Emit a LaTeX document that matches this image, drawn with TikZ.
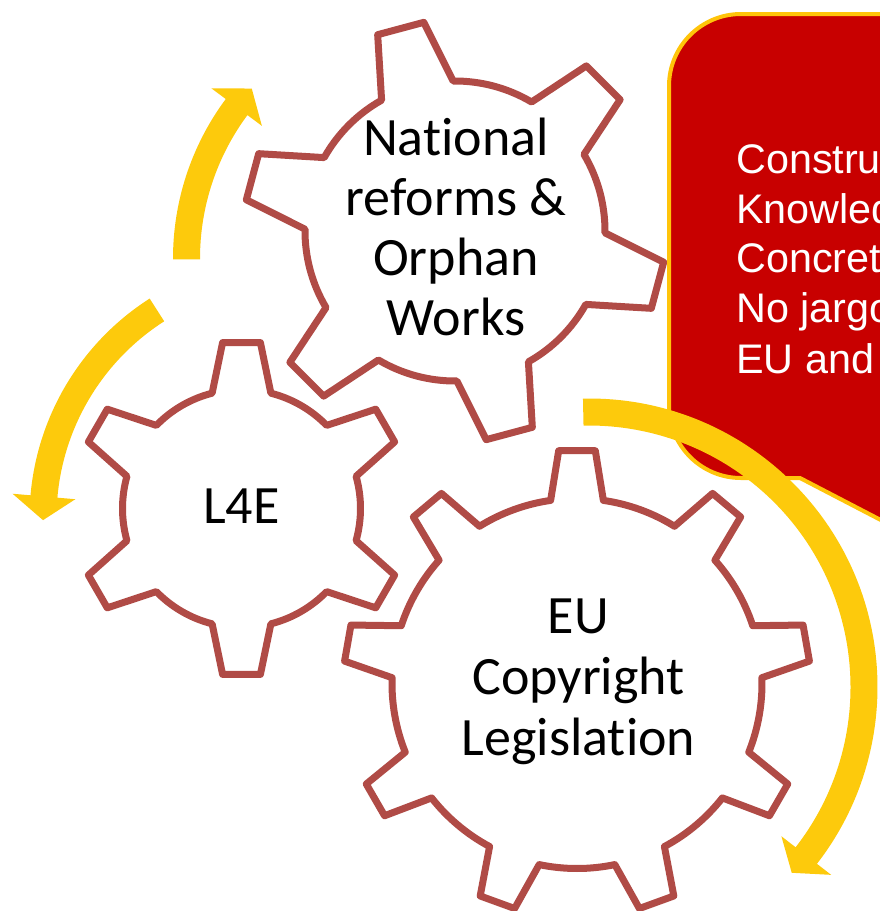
\documentclass[tikz,border=0pt]{standalone}
\usepackage{fontspec}
\setmainfont{Carlito}[Ligatures={NoCommon}]
\newfontfamily\arialf{Liberation Sans}
\definecolor{gearred}{RGB}{176,75,70}
\definecolor{arrowgold}{RGB}{253,202,12}
\definecolor{boxred}{RGB}{200,0,0}
\definecolor{boxgold}{RGB}{255,196,10}
% #1 centre, #2 teeth, #3 first tooth angle, #4 body radius, #5 tip radius, #6 base half angle, #7 tip half angle, #8 style
\newcommand{\drawgear}[8]{%
  \pgfmathsetmacro{\gstep}{360/#2}%
  \draw[#8,shift={(#1)}] ({#3-#6}:#4)
    \foreach \k in {1,...,#2}{
      -- ({#3+(\k-1)*\gstep-#7}:#5) -- ({#3+(\k-1)*\gstep+#7}:#5)
      -- ({#3+(\k-1)*\gstep+#6}:#4)
      arc[start angle={#3+(\k-1)*\gstep+#6}, end angle={#3+\k*\gstep-#6}, radius=#4]
    } -- cycle;%
}
% #1 centre, #2 mid radius, #3 tail angle, #4 head base angle, #5 tip angle, #6 style
\newcommand{\circarrow}[6]{%
  \pgfmathsetmacro{\rbo}{#2+13.5}%
  \pgfmathsetmacro{\rbi}{#2-13.5}%
  \pgfmathsetmacro{\rho}{#2+31.5}%
  \pgfmathsetmacro{\rhi}{#2-31.5}%
  \fill[#6,shift={(#1)}] (#3:\rbo) arc[start angle=#3, end angle=#4, radius=\rbo]
    -- (#4:\rho) -- (#5:#2) -- (#4:\rhi) -- (#4:\rbi)
    arc[start angle=#4, end angle=#3, radius=\rbi] -- cycle;%
}
\begin{document}
\begin{tikzpicture}[x=0.75pt,y=0.75pt,
  gearstyle/.style={draw=gearred, line width=5.25pt, fill=white, line join=round},
  arrowstyle/.style={fill=arrowgold},
  gtext/.style={font=\fontsize{40.5}{45}\selectfont, text=black, inner sep=0pt, anchor=base},
  ctext/.style={font=\arialf\fontsize{31}{37.5}\selectfont, text=white, inner sep=0pt, anchor=base west},
  callout/.style={fill=boxred, draw=boxgold, line width=3pt, line join=round}]
\path[use as bounding box] (0,0) rectangle (880,-911);
\clip (0,0) rectangle (880,-911);

% circular arrows (left side)
\circarrow{440.5,-258.5}{254}{180.2}{143.4}{138}{arrowstyle}
\circarrow{290,-518}{247}{122.6}{175}{180.5}{arrowstyle}

% gears
\drawgear{241.5,-508.5}{6}{90}{119}{167}{14.3}{6.5}{gearstyle}
\drawgear{455,-231}{6}{45}{150}{211}{14.3}{6.5}{gearstyle}
\drawgear{577,-683.5}{9}{90}{185}{233.5}{8.2}{4.5}{gearstyle}

% callout box
\draw[callout] (900,-14) -- (741,-14) arc[start angle=90, end angle=180, radius=72]
  -- (669,-406) arc[start angle=180, end angle=270, radius=72]
  -- (800,-478) -- (900,-530) -- cycle;

% big arrow over the callout
\circarrow{589,-687}{275}{91.2}{-37.8}{-42.5}{arrowstyle}

% gear texts
\node[gtext] (nat1) at (456,-155) {National};
\node[gtext] (nat2) at (456,-215) {reforms \&};
\node[gtext] (nat3) at (456,-275) {Orphan};
\node[gtext] (nat4) at (456,-335) {Works};
\node[gtext] (l4e) at (241.5,-523) {L4E};
\node[gtext] (eu1) at (578.5,-633) {EU};
\node[gtext] (eu2) at (578.5,-694) {Copyright};
\node[gtext] (eu3) at (578.5,-755) {Legislation};

% callout texts (cut by the picture edge, as in the reference)
\node[ctext] (c1) at (736,-173) {Constru};
\node[ctext] (c2) at (736,-223) {Knowled};
\node[ctext] (c3) at (736,-272) {Concret};
\node[ctext] (c4) at (736,-322) {No jargo};
\node[ctext] (c5) at (736,-373) {EU and};
\end{tikzpicture}
\end{document}
